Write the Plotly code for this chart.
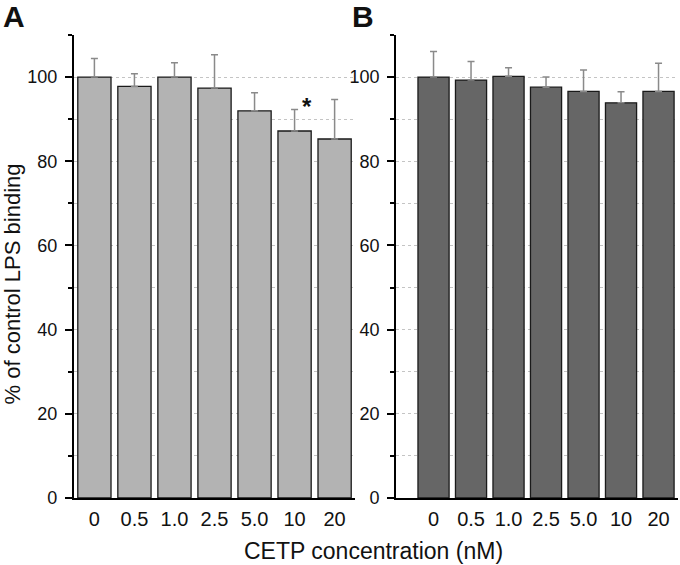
import plotly.graph_objects as go

categories = ["0", "0.5", "1.0", "2.5", "5.0", "10", "20"]
values_a = [100.0, 97.8, 100.0, 97.4, 92.0, 87.2, 85.3]
errors_a = [4.4, 3.0, 3.4, 7.9, 4.3, 5.1, 9.4]
values_b = [100.0, 99.3, 100.2, 97.6, 96.6, 93.9, 96.6]
errors_b = [6.1, 4.4, 2.0, 2.4, 5.1, 2.6, 6.7]
y_title = "% of control LPS binding"
x_title = "CETP concentration (nM)"

FONT = "Arial, Liberation Sans, sans-serif"

fig = go.Figure()

def add_bars(vals, errs, color, xa, ya):
    fig.add_trace(go.Bar(
        x=categories, y=vals, xaxis=xa, yaxis=ya, width=0.83,
        marker=dict(color=color, line=dict(color="#1a1a1a", width=1.3)),
        error_y=dict(type="data", array=errs, arrayminus=[0]*len(errs), symmetric=False,
                     color="#8a8a8a", thickness=1.5, width=3.5),
        showlegend=False, hoverinfo="skip"))

add_bars(values_a, errors_a, "#b3b3b3", "x", "y")
add_bars(values_b, errors_b, "#666666", "x2", "y2")

ydom = [0.1186, 0.938]
yax = dict(range=[0, 110], domain=ydom, tickmode="array", tickvals=[0, 20, 40, 60, 80, 100],
           ticks="outside", ticklen=7, tickwidth=2, tickcolor="black",
           showline=True, linecolor="black", linewidth=2,
           showgrid=True, gridcolor="#c4c4c4", griddash="dot", gridwidth=1,
           minor=dict(tickvals=[10, 30, 50, 70, 90, 110], ticks="outside", ticklen=4, tickwidth=2,
                      tickcolor="black", showgrid=True, gridcolor="#c4c4c4", griddash="dot", gridwidth=1),
           tickfont=dict(family=FONT, size=18, color="#111"), ticklabelstandoff=4,
           zeroline=False, fixedrange=True, automargin=False)
xax = dict(type="category", ticks="", showline=True, linecolor="black", linewidth=2,
           showgrid=False, tickfont=dict(family=FONT, size=20, color="#111"),
           ticklabelstandoff=2, zeroline=False, automargin=False, fixedrange=True)

fig.update_layout(
    width=680, height=565, autosize=False, margin=dict(l=0, r=0, t=0, b=0, pad=0),
    paper_bgcolor="white", plot_bgcolor="white",
    xaxis=dict(domain=[0.1088, 0.5221], range=[-0.51, 6.51], anchor="y", **xax),
    yaxis=dict(anchor="x", **yax),
    xaxis2=dict(domain=[0.5824, 0.9971], range=[-1.0, 6.52], anchor="y2", **xax),
    yaxis2=dict(anchor="x2", **yax),
    barmode="group",
)

# y-axis extension below zero in panel B
fig.add_shape(type="line", xref="x2 domain", x0=0, x1=0, yref="y2", ysizemode="pixel",
              yanchor=0, y0=0, y1=-9, line=dict(color="black", width=2))

annots = [
    dict(text="<b>A</b>", x=0.002, y=1.003, xanchor="left", yanchor="top", font=dict(size=30)),
    dict(text="<b>B</b>", x=0.515, y=1.003, xanchor="left", yanchor="top", font=dict(size=30)),
    dict(text=y_title, x=0.018, y=0.497, textangle=-90, xanchor="center", yanchor="middle",
         font=dict(size=22)),
    dict(text=x_title, x=0.549, y=0.025, xanchor="center", yanchor="middle", font=dict(size=23)),
]
for a in annots:
    a.setdefault("xref", "paper")
    a.setdefault("yref", "paper")
    a["showarrow"] = False
    a["font"] = dict(family=FONT, color="#111", **a["font"])
    fig.add_annotation(**a)

fig.add_annotation(text="<b>*</b>", x=5, y=94.3, xref="x", yref="y", xshift=12, yshift=-5,
                   showarrow=False, font=dict(family=FONT, size=24, color="#111"))

fig.write_html("out.html", config={"displayModeBar": False, "staticPlot": True},
               post_script="document.body.style.margin='0';document.body.style.overflow='hidden';")
